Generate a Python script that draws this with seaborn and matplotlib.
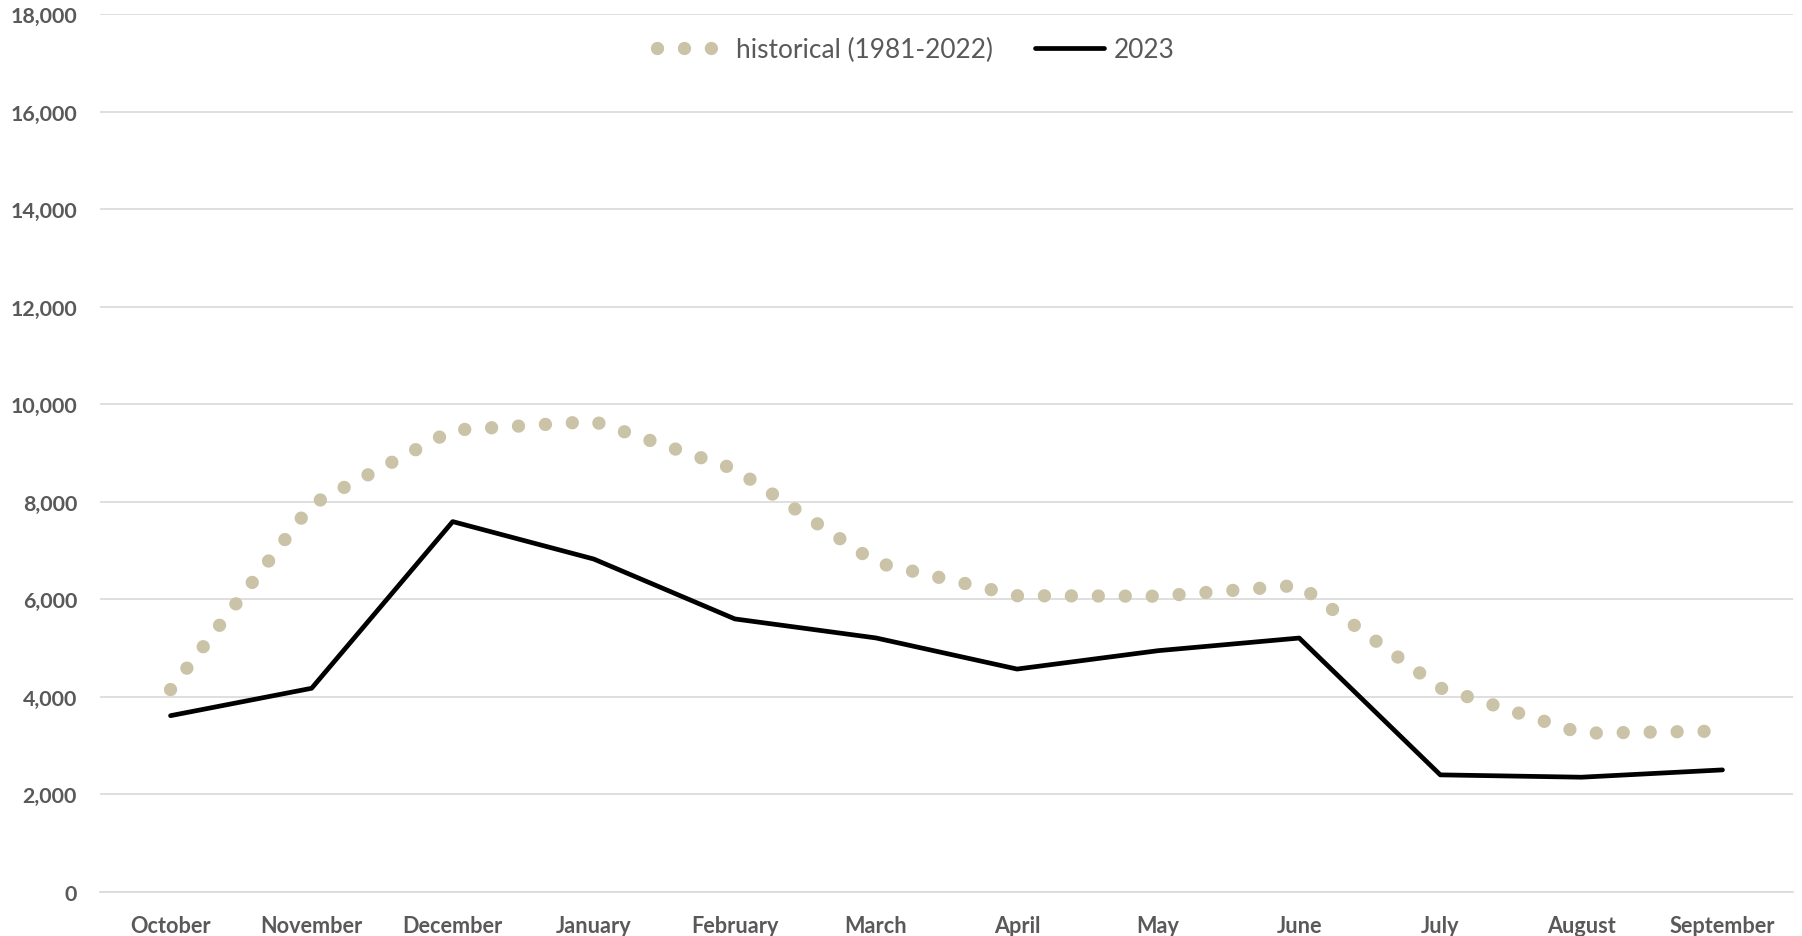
import numpy as np
import pandas as pd
import matplotlib
matplotlib.use("Agg")
import matplotlib.pyplot as plt
import seaborn as sns
from matplotlib.lines import Line2D
from matplotlib.legend_handler import HandlerLine2D

# ---- data ----
months = ["October", "November", "December", "January", "February", "March",
          "April", "May", "June", "July", "August", "September"]
historical = [4145, 7940, 9465, 9645, 8665, 6750, 6070, 6060, 6285, 4178, 3250, 3295]
y2023 = [3610, 4172, 7590, 6822, 5594, 5204, 4566, 4943, 5202, 2396, 2348, 2498]
yticks = list(range(0, 18001, 2000))
legend_labels = ["historical (1981-2022)", "2023"]

HIST_COLOR = "#CAC3A8"
TEXT_COLOR = "#595959"
GRID_COLOR = "#D9D9D9"
DOTS = (0, (0.001, 2.02))

sns.set_theme(style="white")
plt.rcParams["font.family"] = ["Lato", "DejaVu Sans"]

W, H = 1802, 937
fig = plt.figure(figsize=(W / 100, H / 100), dpi=100)
x0, x1, ytop, ybot = 100, 1793, 15, 892.7
ax = fig.add_axes([x0 / W, 1 - ybot / H, (x1 - x0) / W, (ybot - ytop) / H])

pos = np.arange(len(months))
df_hist = pd.DataFrame({"pos": pos, "value": historical})
df_23 = pd.DataFrame({"pos": pos, "value": y2023})

# historical: round-dotted line
sns.lineplot(data=df_hist, x="pos", y="value", ax=ax, color=HIST_COLOR, lw=9.6,
             linestyle=DOTS, dash_capstyle="round", dash_joinstyle="round",
             sort=False, zorder=2, legend=False)
# 2023: solid black line
sns.lineplot(data=df_23, x="pos", y="value", ax=ax, color="black", lw=3.4,
             sort=False, solid_capstyle="round", solid_joinstyle="round",
             zorder=3, legend=False)

# axes styling
ax.set_xlim(-0.5, len(months) - 0.5)
ax.set_ylim(0, 18000)
ax.set_xticks(pos)
ax.set_xticklabels(months)
ax.set_yticks(yticks)
ax.set_yticklabels([f"{v:,}" for v in yticks])
ax.set_xlabel("")
ax.set_ylabel("")
ax.yaxis.grid(True, color=GRID_COLOR, lw=1.2)
ax.xaxis.grid(False)
ax.set_axisbelow(True)
for side in ["left", "right", "top"]:
    ax.spines[side].set_visible(False)
ax.spines["bottom"].set_color(GRID_COLOR)
ax.spines["bottom"].set_linewidth(1.2)
ax.tick_params(axis="x", length=0, pad=16.5, labelsize=15.6, labelcolor=TEXT_COLOR)
ax.tick_params(axis="y", length=0, pad=16.5, labelsize=15.4, labelcolor=TEXT_COLOR)
for lab in ax.get_xticklabels() + ax.get_yticklabels():
    lab.set_fontweight("bold")


class LongLineHandler(HandlerLine2D):
    def __init__(self, factor=1.0, **kw):
        super().__init__(**kw)
        self.factor = factor

    def create_artists(self, legend, orig_handle, xdescent, ydescent, width,
                       height, fontsize, trans):
        return super().create_artists(legend, orig_handle, xdescent, ydescent,
                                      width * self.factor, height, fontsize, trans)


# legend
h1 = Line2D([], [], color=HIST_COLOR, lw=9.6, linestyle=DOTS,
            dash_capstyle="round")
h2 = Line2D([], [], color="black", lw=3.4, solid_capstyle="round")
fig.legend([h1, h2], legend_labels, loc="center",
           bbox_to_anchor=(916 / W, 1 - 50.5 / H), ncol=2, frameon=False,
           fontsize=18.9, handlelength=2.2, handletextpad=0.8,
           columnspacing=1.6, labelcolor=TEXT_COLOR,
           handler_map={h2: LongLineHandler(factor=1.19)})

fig.savefig("out.png", dpi=100, facecolor="white")
